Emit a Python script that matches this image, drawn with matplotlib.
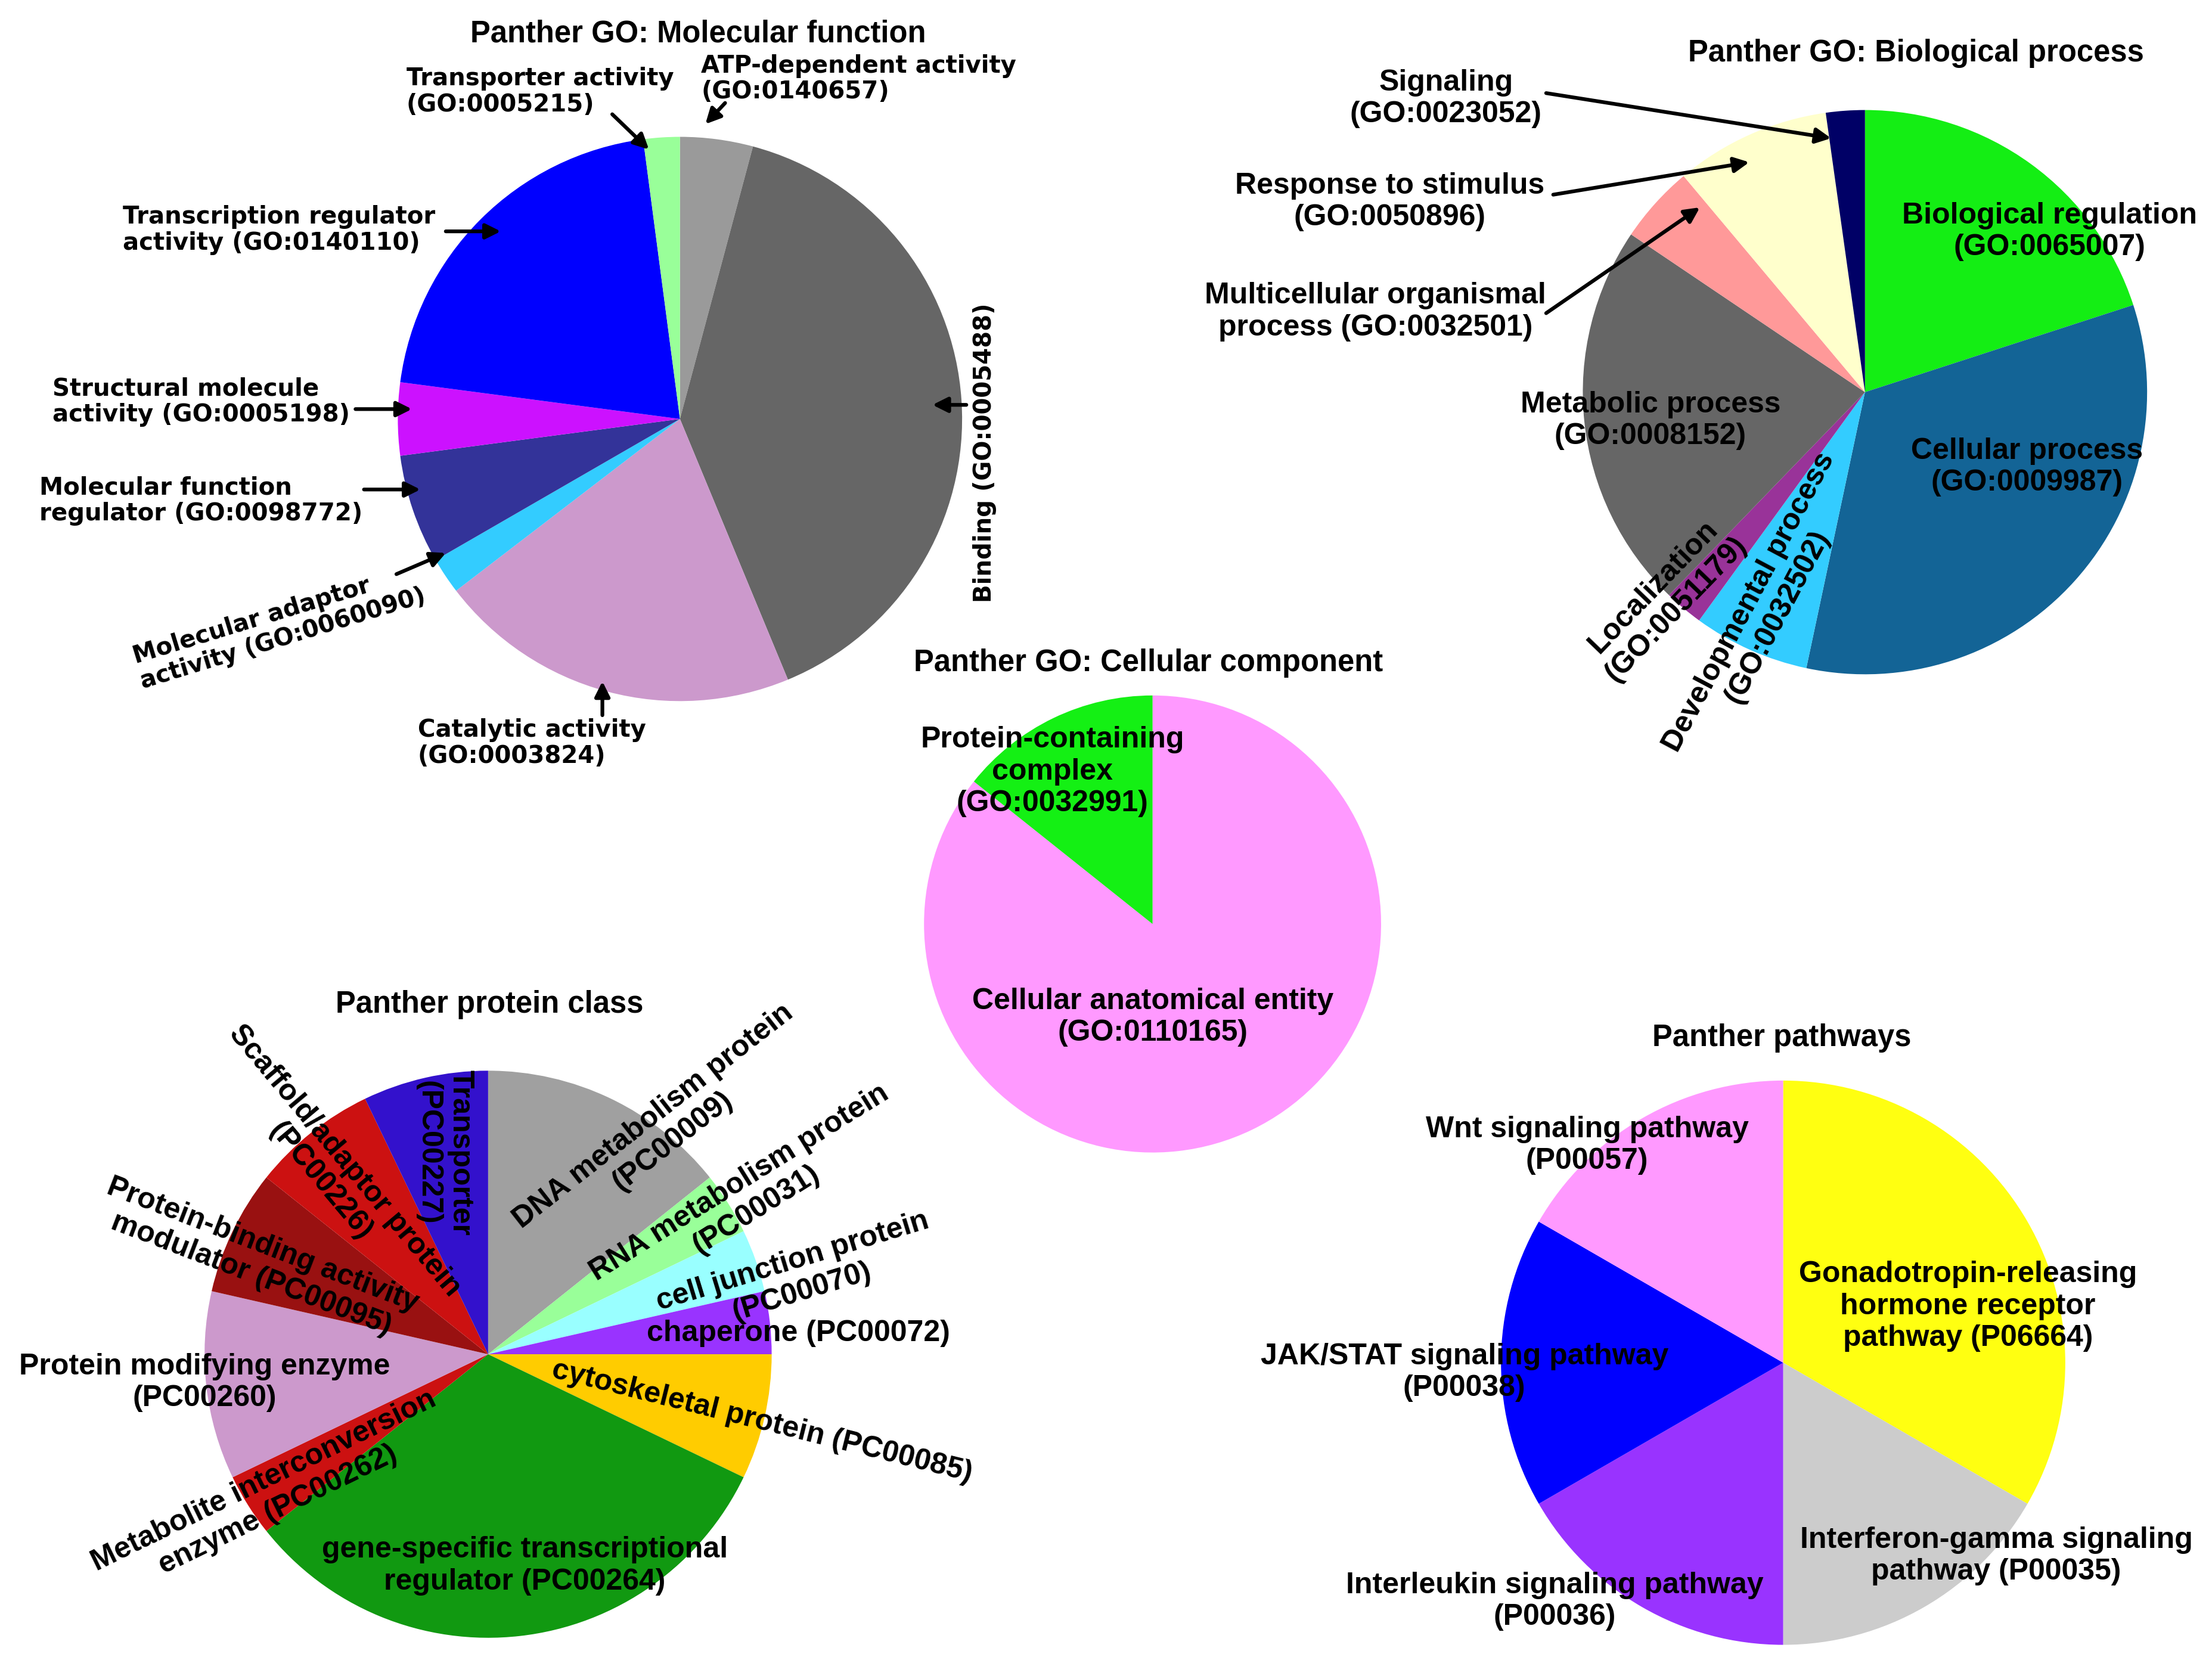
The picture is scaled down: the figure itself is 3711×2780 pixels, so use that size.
import matplotlib
matplotlib.use("Agg")
import matplotlib.pyplot as plt
from matplotlib import font_manager

# layout works in the reference's displayed pixel grid (1568 wide)
W = 1568.0
H = W * 2780 / 3711

# ---- data -----------------------------------------------------------------
mf_labels = ["ATP-dependent activity", "Binding", "Catalytic activity",
             "Molecular adaptor activity", "Molecular function regulator",
             "Structural molecule activity", "Transcription regulator activity",
             "Transporter activity"]
mf_counts = [2, 19, 10, 1, 3, 2, 10, 1]
mf_colors = ["#9a9a9a", "#666666", "#cc99cc", "#33ccff", "#333399",
             "#cc11ff", "#0000ff", "#99ff99"]

bp_labels = ["Biological regulation", "Cellular process", "Developmental process",
             "Localization", "Metabolic process", "Multicellular organismal process",
             "Response to stimulus", "Signaling"]
bp_counts = [9, 15, 3, 1, 10, 2, 4, 1]
bp_colors = ["#14ee14", "#136496", "#33ccff", "#993399", "#666666",
             "#ff9999", "#ffffcc", "#000066"]

cc_labels = ["Cellular anatomical entity", "Protein-containing complex"]
cc_counts = [6, 1]
cc_colors = ["#ff99ff", "#14f014"]

pc_labels = ["DNA metabolism protein", "RNA metabolism protein", "cell junction protein",
             "chaperone", "cytoskeletal protein", "gene-specific transcriptional regulator",
             "Metabolite interconversion enzyme", "Protein modifying enzyme",
             "Protein-binding activity modulator", "Scaffold/adaptor protein", "Transporter"]
pc_counts = [4, 1, 1, 1, 2, 9, 1, 3, 2, 2, 2]
pc_colors = ["#a0a0a0", "#99ff99", "#99ffff", "#9933ff", "#ffcc00", "#119911",
             "#cc1111", "#cc99cc", "#991111", "#cc1111", "#3311cc"]

pw_labels = ["Gonadotropin-releasing hormone receptor pathway",
             "Interferon-gamma signaling pathway", "Interleukin signaling pathway",
             "JAK/STAT signaling pathway", "Wnt signaling pathway"]
pw_counts = [2, 1, 1, 1, 1]
pw_colors = ["#ffff11", "#cccccc", "#9933ff", "#0000ff", "#ff99ff"]

# ---- fonts ------------------------------------------------------------------
names = {f.name for f in font_manager.fontManager.ttflist}
if "Liberation Sans Narrow" in names:
    title_font = dict(family="Liberation Sans Narrow", weight="bold", size=44.5)
else:
    title_font = dict(family="Liberation Sans", weight="bold", size=36.5)
lab_font = dict(family="Liberation Sans", weight="bold", size=36, linespacing=1.2)
mf_font = dict(family="DejaVu Sans", weight="bold", size=29, linespacing=1.12)

fig = plt.figure(figsize=(37.11, 27.80), dpi=100)
ax = fig.add_axes([0, 0, 1, 1])


def pie(counts, colors, cx, cy, r):
    # y axis is flipped below, so 270 deg is the top and ccw reads clockwise
    ax.pie(counts, colors=colors, center=(cx, cy), radius=r, startangle=270,
           counterclock=True, wedgeprops=dict(linewidth=0))


def txt(x, y, s, rot=0, ha="center", font=lab_font, ma=None):
    if ma is None:
        ma = "center" if ha == "center" else "left"
    ax.text(x, y, s, ha=ha, va="center", rotation=rot, rotation_mode="anchor",
            multialignment=ma, **font)


def arrow(x0, y0, x1, y1):
    ax.annotate("", xy=(x1, y1), xytext=(x0, y0),
                arrowprops=dict(arrowstyle="-|>", lw=4.5, color="black",
                                mutation_scale=38, shrinkA=0, shrinkB=0))


# Molecular function
pie(mf_counts, mf_colors, 482, 297, 200)
ax.text(495, 24, "Panther GO: Molecular function", ha="center", va="center", **title_font)
txt(288, 65, "Transporter activity\n(GO:0005215)", ha="left", font=mf_font)
txt(497, 56, "ATP-dependent activity\n(GO:0140657)", ha="left", font=mf_font)
txt(87, 163, "Transcription regulator\nactivity (GO:0140110)", ha="left", font=mf_font)
txt(37, 285, "Structural molecule\nactivity (GO:0005198)", ha="left", font=mf_font)
txt(28, 355, "Molecular function\nregulator (GO:0098772)", ha="left", font=mf_font)
txt(296, 527, "Catalytic activity\n(GO:0003824)", ha="left", font=mf_font)
txt(198, 444, "Molecular adaptor\nactivity (GO:0060090)", rot=17, font=mf_font, ma="left")
txt(698, 321, "Binding (GO:0005488)", rot=90, font=mf_font)
arrow(434, 81, 460, 106)
arrow(514, 73, 500, 88)
arrow(316, 164, 355, 164)
arrow(252, 290, 292, 290)
arrow(258, 347, 298, 347)
arrow(281, 407, 316, 392)
arrow(685, 287, 661, 287)
arrow(427, 507, 427, 483)

# Biological process
pie(bp_counts, bp_colors, 1322, 278, 200)
ax.text(1358, 38, "Panther GO: Biological process", ha="center", va="center", **title_font)
txt(1025, 70, "Signaling\n(GO:0023052)")
txt(985, 143, "Response to stimulus\n(GO:0050896)")
txt(975, 221, "Multicellular organismal\nprocess (GO:0032501)")
txt(1453, 164, "Biological regulation\n(GO:0065007)")
txt(1437, 331, "Cellular process\n(GO:0009987)")
txt(1170, 298, "Metabolic process\n(GO:0008152)")
txt(1180, 424, "Localization\n(GO:0051179)", rot=46)
txt(1250, 432, "Developmental process\n(GO:0032502)", rot=62)
arrow(1096, 66, 1298, 98)
arrow(1101, 138, 1240, 115)
arrow(1096, 222, 1205, 147)

# Cellular component
pie(cc_counts, cc_colors, 817, 655, 162)
ax.text(814, 470, "Panther GO: Cellular component", ha="center", va="center", **title_font)
txt(746, 547, "Protein-containing\ncomplex\n(GO:0032991)")
txt(817, 721, "Cellular anatomical entity\n(GO:0110165)")

# Protein class
pie(pc_counts, pc_colors, 346, 960, 201)
ax.text(347, 712, "Panther protein class", ha="center", va="center", **title_font)
txt(470, 800, "DNA metabolism protein\n(PC00009)", rot=38)
txt(530, 848, "RNA metabolism protein\n(PC00031)", rot=32)
txt(565, 905, "cell junction protein\n(PC00070)", rot=17)
txt(566, 945, "chaperone (PC00072)")
txt(540, 1008, "cytoskeletal protein (PC00085)", rot=-14)
txt(372, 1110, "gene-specific transcriptional\nregulator (PC00264)")
txt(192, 1060, "Metabolite interconversion\nenzyme (PC00262)", rot=26)
txt(145, 980, "Protein modifying enzyme\n(PC00260)")
txt(182, 893, "Protein-binding activity\nmodulator (PC00095)", rot=-21)
txt(236, 830, "Scaffold/adaptor protein\n(PC00226)", rot=-50)
txt(315, 817, "Transporter\n(PC00227)", rot=-90)

# Pathways
pie(pw_counts, pw_colors, 1264, 966, 200)
ax.text(1263, 736, "Panther pathways", ha="center", va="center", **title_font)
txt(1125, 812, "Wnt signaling pathway\n(P00057)")
txt(1395, 926, "Gonadotropin-releasing\nhormone receptor\npathway (P06664)")
txt(1038, 973, "JAK/STAT signaling pathway\n(P00038)")
txt(1415, 1103, "Interferon-gamma signaling\npathway (P00035)")
txt(1102, 1135, "Interleukin signaling pathway\n(P00036)")

ax.set_xlim(0, W)
ax.set_ylim(H, 0)
ax.set_aspect("equal", adjustable="box")
ax.axis("off")
fig.savefig("out.png", dpi=100, facecolor="white")
